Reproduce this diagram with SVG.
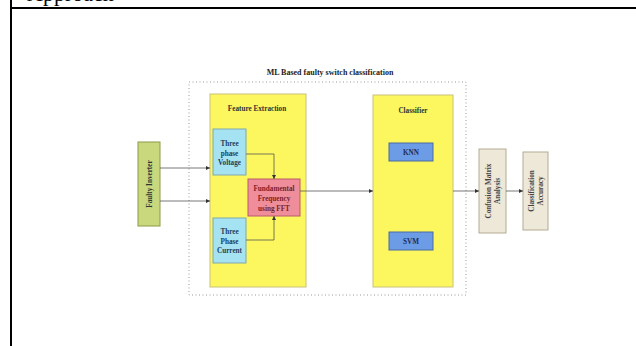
<svg xmlns="http://www.w3.org/2000/svg" width="636" height="346" viewBox="0 0 636 346">
<defs>
<marker id="ah" viewBox="0 0 6 6" refX="6" refY="3" markerWidth="4" markerHeight="4" orient="auto" markerUnits="userSpaceOnUse">
<path d="M0,0 L6,3 L0,6 Z" fill="#333"/>
</marker>
<style>
text{font-family:"Liberation Serif","Times New Roman",serif;font-weight:bold;text-anchor:middle;}
.t{font-size:7.2px;}
.yel{fill:#fcf75e;stroke:#c9c27a;stroke-width:1;}
.cyan{fill:#a6e3f2;stroke:#7fa6b0;stroke-width:1;}
.pink{fill:#ef8e9a;stroke:#b85a66;stroke-width:1;}
.blue{fill:#6d9ce6;stroke:#4a6aa0;stroke-width:1;}
.grn{fill:#c9d87c;stroke:#8c9a4a;stroke-width:1;}
.bei{fill:#eee8d8;stroke:#b4ab94;stroke-width:1;}
.ln{fill:none;stroke:#555;stroke-width:0.8;}
</style>
</defs>
<rect width="636" height="346" fill="#fff"/>
<g id="frame">
<text x="27" y="0.5" style="font-size:22px;font-weight:normal;text-anchor:start;" fill="#000">Approach</text>
<line x1="10" y1="8" x2="636" y2="8" stroke="#000" stroke-width="2"/>
<line x1="11" y1="0" x2="11" y2="346" stroke="#000" stroke-width="2"/>
</g>
<g id="outer">
<rect x="189" y="82" width="277" height="213" fill="none" stroke="#999" stroke-width="1" stroke-dasharray="1,2.5"/>
<text x="330" y="74.5" style="font-size:8px" fill="#222">ML Based faulty switch classification</text>
</g>
<g id="feature-extraction">
<rect class="yel" x="210" y="94" width="96" height="193"/>
<text x="257" y="110.5" class="t" fill="#333">Feature Extraction</text>
</g>
<g id="voltage">
<rect class="cyan" x="213" y="129" width="33" height="46"/>
<text x="229.5" y="145.5" class="t" fill="#1e3e5c">Three</text>
<text x="229.5" y="155.5" class="t" fill="#1e3e5c">phase</text>
<text x="229.5" y="165" class="t" fill="#1e3e5c">Voltage</text>
</g>
<g id="current">
<rect class="cyan" x="213" y="218" width="33" height="45"/>
<text x="229.5" y="233.5" class="t" fill="#1e3e5c">Three</text>
<text x="229.5" y="243.5" class="t" fill="#1e3e5c">Phase</text>
<text x="229.5" y="253" class="t" fill="#1e3e5c">Current</text>
</g>
<g id="fft">
<rect class="pink" x="248" y="179" width="52" height="37"/>
<text x="274" y="190.5" class="t" fill="#7a1e2c">Fundamental</text>
<text x="274" y="200.5" class="t" fill="#7a1e2c">Frequency</text>
<text x="274" y="210.5" class="t" fill="#7a1e2c">using FFT</text>
</g>
<g id="faulty-inverter">
<rect class="grn" x="138" y="142" width="22" height="84"/>
<text transform="translate(151.5,184) rotate(-90)" class="t" fill="#333">Faulty Inverter</text>
</g>
<g id="classifier">
<rect class="yel" x="373" y="95" width="80" height="192"/>
<text x="413" y="112.5" class="t" fill="#333">Classifier</text>
</g>
<g id="knn">
<rect class="blue" x="389" y="143" width="44" height="18"/>
<text x="411" y="154.5" class="t" fill="#1e2e5a">KNN</text>
</g>
<g id="svm">
<rect class="blue" x="389" y="232" width="44" height="18"/>
<text x="411" y="243.5" class="t" fill="#1e2e5a">SVM</text>
</g>
<g id="confusion">
<rect class="bei" x="479" y="149" width="27" height="84"/>
<text transform="translate(491,191) rotate(-90)" class="t" fill="#444">Confusion Matrix</text>
<text transform="translate(499.5,191) rotate(-90)" class="t" fill="#444">Analysis</text>
</g>
<g id="accuracy">
<rect class="bei" x="523" y="152" width="25" height="78"/>
<text transform="translate(534,191) rotate(-90)" class="t" fill="#444">Classification</text>
<text transform="translate(542.5,191) rotate(-90)" class="t" fill="#444">Accuracy</text>
</g>
<g id="connectors">
<line class="ln" x1="160" y1="168" x2="210" y2="168" marker-end="url(#ah)"/>
<line class="ln" x1="160" y1="201" x2="210" y2="201" marker-end="url(#ah)"/>
<polyline class="ln" points="246,154 274,154 274,179" marker-end="url(#ah)"/>
<polyline class="ln" points="246,240 274,240 274,216" marker-end="url(#ah)"/>
<line class="ln" x1="300" y1="191" x2="373" y2="191" marker-end="url(#ah)"/>
<line class="ln" x1="453" y1="191" x2="479" y2="191" marker-end="url(#ah)"/>
<line class="ln" x1="506" y1="191" x2="523" y2="191" marker-end="url(#ah)"/>
</g>
</svg>
